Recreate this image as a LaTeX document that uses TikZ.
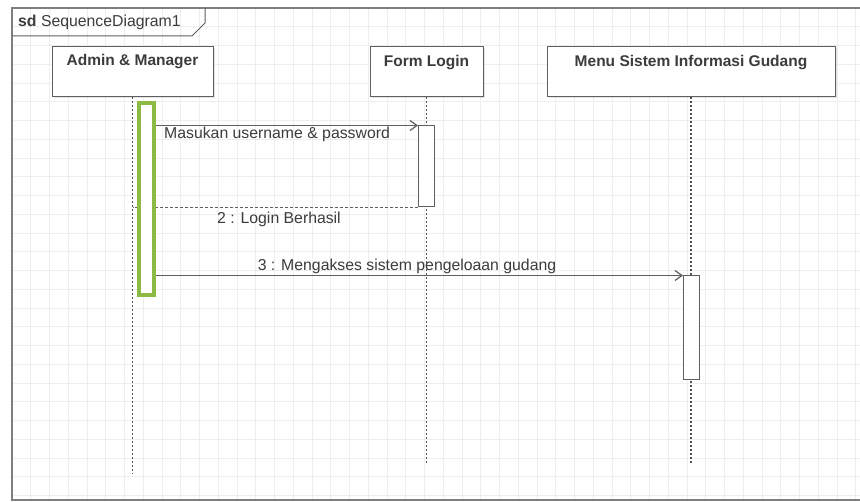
\documentclass[tikz,border=0pt]{standalone}
\usepackage{fontspec}
\setmainfont{Liberation Sans}
\usetikzlibrary{arrows.meta,shadows}
\definecolor{umlgreen}{RGB}{140,186,68}
\definecolor{txt}{RGB}{60,60,60}
\definecolor{ln}{RGB}{95,95,95}
\definecolor{gridc}{RGB}{238,238,238}
\begin{document}
\begin{tikzpicture}[x=1pt,y=-1pt,
  gridline/.style={draw=gridc, line width=0.8pt},
  frameline/.style={draw=ln!80, line width=1.5pt},
  headbox/.style={draw=ln, line width=1pt, fill=white, minimum height=50pt, inner sep=0pt,
    drop shadow={shadow xshift=1.5pt, shadow yshift=-1.5pt, fill=gray!40, opacity=0.5}},
  headtext/.style={text=txt, font=\fontsize{15.5}{18}\selectfont\bfseries, inner sep=0pt},
  msgtext/.style={text=txt, font=\fontsize{15.8}{18}\selectfont, inner sep=0pt},
  lifeline/.style={draw=ln!85!black, line width=1.2pt, dash pattern=on 2pt off 2pt},
  act/.style={draw=ln, line width=1pt, fill=white, minimum width=16pt, inner sep=0pt},
  greenact/.style={draw=umlgreen, line width=4pt, fill=white, minimum width=15pt, minimum height=192pt, inner sep=0pt},
  msg/.style={draw=ln, line width=1.2pt, -{Straight Barb[length=7pt,width=10pt]}},
  ret/.style={draw=ln, line width=1pt, dash pattern=on 3pt off 2pt}
]
\useasboundingbox (0,0) rectangle (860,502);
\fill[white] (0,0) rectangle (860,502);
% grid
\foreach \gx in {12,30.75,...,860} \draw[gridline] (\gx,8) -- (\gx,500);
\foreach \gy in {8,26.75,...,500} \draw[gridline] (12,\gy) -- (860,\gy);
% frame
\draw[frameline] (860,8) -- (12,8) -- (12,500) -- (860,500);
\draw[draw=ln, line width=1pt] (12,36) -- (192,36) -- (205,23) -- (205,8);
\node[msgtext, anchor=west] (title) at (18,22) {{\bfseries sd} SequenceDiagram1};
% lifeline heads
\node[headbox, minimum width=161pt] (am) at (132.5,72) {};
\node[headtext] (amt) at (132.5,62) {Admin \& Manager};
\node[headbox, minimum width=113pt] (fl) at (426.5,72) {};
\node[headtext] (flt) at (426.5,63) {Form Login};
\node[headbox, minimum width=288pt] (mn) at (691,72) {};
\node[headtext] (mnt) at (691,63) {Menu Sistem Informasi Gudang};
% lifelines
\coordinate (amEnd) at (132.5,474);
\coordinate (flEnd) at (426.5,465);
\coordinate (mnEnd) at (691,465);
\draw[lifeline] (am.south) -- (amEnd);
\draw[lifeline] (fl.south) -- (flEnd);
\draw[lifeline] (mn.south) -- (mnEnd);
% activations
\node[act, minimum height=81pt] (fa) at (426.5,166.5) {};
\node[act, minimum height=104pt] (ma) at (691.5,328) {};
% messages
\draw[ret] (fa.south west) -- (am.south |- fa.south);
\node[greenact] (ga) at (146.5,199.5) {};
\draw[msg] (ga.east |- fa.north) -- (fa.north west);
\node[msgtext, anchor=west] (m1) at (164,134) {Masukan username \& password};
\node[msgtext] (m2) at (279,219) {2 : Login Berhasil};
\draw[msg] (ga.east |- ma.north) -- (ma.north west);
\node[msgtext] (m3) at (407,266) {3 : Mengakses sistem pengeloaan gudang};
\end{tikzpicture}
\end{document}
